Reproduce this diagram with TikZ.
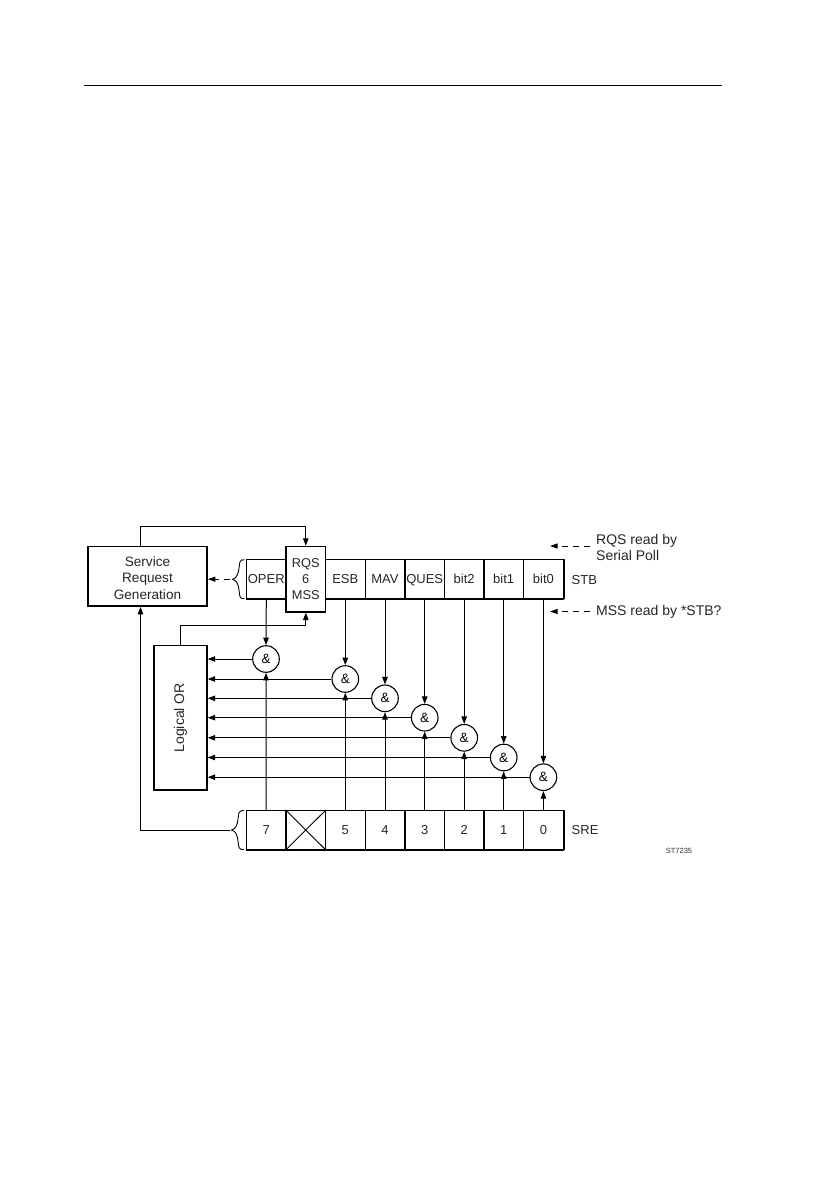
\documentclass[tikz,border=0pt]{standalone}
\usepackage{fontspec}
\setmainfont{Liberation Sans}
\usetikzlibrary{arrows.meta,decorations.pathreplacing,calc}
\tikzset{
  cellbox/.style={draw=black,line width=1pt,inner sep=0pt,minimum width=39.5pt,minimum height=39.3pt,text height=9.4pt,text depth=0pt,font=\fontsize{13}{15}\selectfont,text=black!85},
  mainbox/.style={draw=black,line width=1.7pt,inner sep=0pt,align=center,font=\fontsize{13.6}{16.5}\selectfont,text=black!85},
  andgate/.style={circle,draw=black,line width=1.1pt,inner sep=0pt,minimum size=26.6pt,font=\fontsize{13.5}{15}\selectfont},
  wire/.style={line width=1pt,draw=black},
  arr/.style={wire,-{Triangle[length=7.5pt,width=5.5pt]}},
  dasharr/.style={wire,dash pattern=on 6pt off 5pt,-{Triangle[length=7.5pt,width=5pt]}},
  label/.style={inner sep=0pt,anchor=west,align=left,font=\fontsize{14}{16.3}\selectfont,text=black!85},
  heavy/.style={line width=1.8pt,draw=black},
}
\begin{document}
\begin{tikzpicture}[x=1pt,y=-1pt]
\useasboundingbox[fill=white] (0,0) rectangle (838,1189);
\coordinate (ruleL) at (84,85.5);
\coordinate (ruleR) at (722,85.5);
\draw[line width=1pt] (ruleL) -- (ruleR);

% STB row
\node[cellbox] (oper) at (266.3,579.2) {OPER};
\node[cellbox] (esb) at (345.3,579.2) {ESB};
\node[cellbox] (mav) at (385,579.2) {MAV};
\node[cellbox] (ques) at (424.7,579.2) {QUES};
\node[cellbox] (btwo) at (464.2,579.2) {bit2};
\node[cellbox] (bone) at (503.7,579.2) {bit1};
\node[cellbox] (bzero) at (543.4,579.2) {bit0};
\node[mainbox,line width=1.4pt,fill=white,minimum width=39.7pt,minimum height=65.5pt,font=\fontsize{12.8}{16.2}\selectfont] (rqs) at (305.8,579.2) {RQS\\6\\MSS};
\foreach \c in {oper,esb,mav,ques,btwo,bone,bzero}{\draw[heavy] (\c.south west) -- (\c.south east);}
\foreach \c in {esb,mav,btwo,bzero}{\draw[heavy] (\c.north east) -- (\c.south east);}

% SRE row
\node[cellbox] (sseven) at (266.2,830) {7};
\node[cellbox] (ssix) at (305.8,830) {};
\node[cellbox] (sfive) at (345.3,830) {5};
\node[cellbox] (sfour) at (385,830) {4};
\node[cellbox] (sthree) at (424.7,830) {3};
\node[cellbox] (stwo) at (464.2,830) {2};
\node[cellbox] (sone) at (503.7,830) {1};
\node[cellbox] (szero) at (543.4,830) {0};
\foreach \c in {sseven,ssix,sfive,sfour,sthree,stwo,sone,szero}{\draw[heavy] (\c.south west) -- (\c.south east);}
\foreach \c in {sseven,sfive,sfour,stwo,szero}{\draw[heavy] (\c.north east) -- (\c.south east);}
\draw[line width=0.9pt] (ssix.north west) -- (ssix.south east) (ssix.south west) -- (ssix.north east);

% main boxes
\node[mainbox,minimum width=119pt,minimum height=59.5pt] (srg) at (147.5,576.3) {};
\node[inner sep=0pt,align=center,font=\fontsize{13.6}{16.5}\selectfont,text=black!85] (srgtext) at (147.5,577.8) {Service\\Request\\Generation};
\node[mainbox,line width=1.4pt,minimum width=53pt,minimum height=144.5pt] (lor) at (180.5,717.8) {};
\node[rotate=90,inner sep=0pt,font=\fontsize{14}{15}\selectfont,text=black!85] (lortext) at (lor.center) {Logical OR};

% gates
\node[andgate] (aseven) at (266,659) {\&};
\node[andgate] (afive) at (345.3,679) {\&};
\node[andgate] (afour) at (385,698.3) {\&};
\node[andgate] (athree) at (424.7,717.7) {\&};
\node[andgate] (atwo) at (464.2,737.8) {\&};
\node[andgate] (aone) at (503.7,757.5) {\&};
\node[andgate] (azero) at (543.4,777.2) {\&};

% gate wiring
\draw[arr] (oper.south) -- (aseven.north);
\draw[arr] (esb.south) -- (afive.north);
\draw[arr] (mav.south) -- (afour.north);
\draw[arr] (ques.south) -- (athree.north);
\draw[arr] (btwo.south) -- (atwo.north);
\draw[arr] (bone.south) -- (aone.north);
\draw[arr] (bzero.south) -- (azero.north);
\draw[arr] (sseven.north) -- (aseven.south);
\draw[arr] (sfive.north) -- (afive.south);
\draw[arr] (sfour.north) -- (afour.south);
\draw[arr] (sthree.north) -- (athree.south);
\draw[arr] (stwo.north) -- (atwo.south);
\draw[arr] (sone.north) -- (aone.south);
\draw[arr] (szero.north) -- (azero.south);
\foreach \g in {aseven,afive,afour,athree,atwo,aone,azero}{\draw[arr] (\g.west) -- (\g.west -| lor.east);}

% feedback wires
\coordinate (tA) at (140.5,526);
\draw[arr] (tA |- srg.north) -- (tA) -- (tA -| rqs.north) -- (rqs.north);
\coordinate (midA) at (180.5,625.5);
\draw[arr] (midA |- lor.north) -- (midA) -- (midA -| rqs.south) -- (rqs.south);
\coordinate (sreIn) at (229.5,830);
\coordinate (srgB) at (140.5,830);
\draw[arr] (sreIn) -- (srgB) -- (srgB |- srg.south);

% braces
\coordinate (b1t) at (244.5,559.7);
\coordinate (b1b) at (244.5,598.7);
\draw[line width=0.9pt] (b1t) .. controls (239,559.7) and (240,562) .. (239,568) .. controls (238.5,573) and (237,578) .. (232.7,579.2) coordinate (b1tip) .. controls (237,580.5) and (238.5,585) .. (239,590) .. controls (240,596.5) and (239,598.7) .. (b1b);
\coordinate (b2t) at (244,810.5);
\coordinate (b2b) at (244,849.7);
\draw[line width=0.9pt] (b2t) .. controls (238,810.5) and (239,813) .. (238,819) .. controls (237.5,824) and (236,829) .. (231.5,830) .. controls (236,831) and (237.5,836) .. (238,841) .. controls (239,847) and (238,849.7) .. (b2b);
\coordinate (bs) at (229.5,579.2);
\draw[dasharr] (bs) -- (bs -| srg.east);

% labels
\node[label,font=\fontsize{13}{15}\selectfont] (lstb) at (571.5,580) {STB};
\node[label,font=\fontsize{13}{15}\selectfont] (lsre) at (571.5,830) {SRE};
\node[label] (lrqs) at (596,547.5) {RQS read by\\Serial Poll};
\node[label] (lmss) at (596,611.5) {MSS read by *STB?};
\coordinate (trqs) at (550,546);
\coordinate (tmss) at (550,611.5);
\draw[dasharr] (590,546) coordinate (srqs) -- (trqs);
\draw[dasharr] (lmss.west) ++(-6,0) -- (tmss);
\node[inner sep=0pt,font=\fontsize{7.5}{9}\selectfont,text=black!80] (code) at (679,850.5) {ST7235};
\end{tikzpicture}
\end{document}
